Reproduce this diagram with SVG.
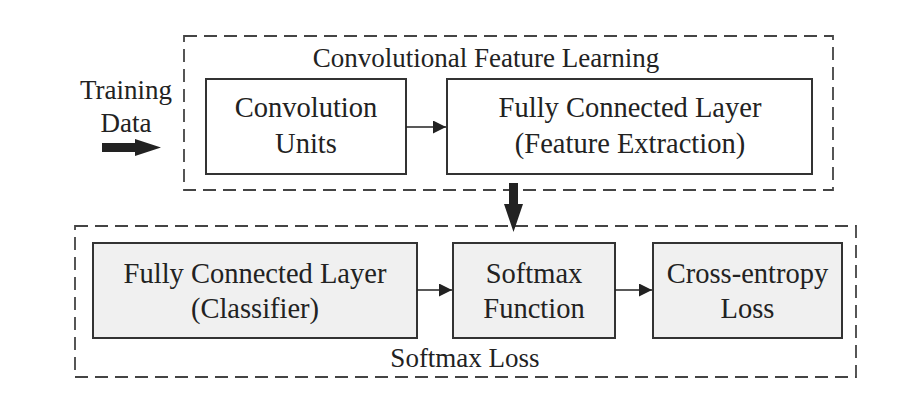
<svg xmlns="http://www.w3.org/2000/svg" width="898" height="408" viewBox="0 0 898 408">
  <defs>
    <style>
      text { font-family: 'Liberation Serif', serif; fill: #222; text-anchor: middle; }
      .lbl { font-size: 27px; }
      .node { font-size: 28.5px; }
      .box { fill: #ffffff; stroke: #333; stroke-width: 2; }
      .gbox { fill: #f0f0f0; stroke: #333; stroke-width: 2; }
      .dash { fill: none; stroke: #444; stroke-width: 1.8; stroke-dasharray: 13 7; }
      .conn { stroke: #222; stroke-width: 1.6; fill: none; }
      .fat { fill: #222; stroke: none; }
    </style>
    <marker id="ah" viewBox="0 0 10 10" refX="10" refY="5" markerWidth="14" markerHeight="13" markerUnits="userSpaceOnUse" orient="auto">
      <path d="M0,0 L10,5 L0,10 z" fill="#222"/>
    </marker>
  </defs>
  <rect width="898" height="408" fill="#ffffff"/>

  <g font-family="Liberation Serif, serif">
  <g id="group-feature-learning">
    <rect class="dash" x="184" y="36" width="649" height="154"/>
    <text class="lbl" x="486" y="67">Convolutional Feature Learning</text>
  </g>
  <g id="group-softmax-loss">
    <rect class="dash" x="75" y="226" width="781" height="151"/>
    <text class="lbl" x="465" y="367">Softmax Loss</text>
  </g>

  <g id="training-data">
    <text class="lbl" x="126" y="99">Training</text>
    <text class="lbl" x="126" y="132">Data</text>
  </g>

  <g id="conv-units">
    <rect class="box" x="206" y="79" width="200" height="95"/>
    <text class="node" x="306" y="117">Convolution</text>
    <text class="node" x="306" y="153">Units</text>
  </g>
  <g id="fc-feature">
    <rect class="box" x="447" y="79" width="365" height="95"/>
    <text class="node" x="630" y="117">Fully Connected Layer</text>
    <text class="node" x="630" y="153">(Feature Extraction)</text>
  </g>
  <g id="fc-classifier">
    <rect class="gbox" x="93" y="243" width="324" height="95"/>
    <text class="node" x="255" y="283">Fully Connected Layer</text>
    <text class="node" x="255" y="318">(Classifier)</text>
  </g>
  <g id="softmax-function">
    <rect class="gbox" x="453" y="243" width="162" height="95"/>
    <text class="node" x="534" y="283">Softmax</text>
    <text class="node" x="534" y="318">Function</text>
  </g>
  <g id="cross-entropy">
    <rect class="gbox" x="653" y="243" width="189" height="95"/>
    <text class="node" x="747.5" y="283">Cross-entropy</text>
    <text class="node" x="747.5" y="318">Loss</text>
  </g>
  </g>

  <g id="connectors">
    <path class="fat" d="M102,143 L135,143 L135,139 L161,147.5 L135,156 L135,152 L102,152 z"/>
    <path class="fat" d="M509,183 L518,183 L518,204 L523,204 L513.5,232 L504,204 L509,204 z"/>
    <line class="conn" x1="406" y1="127" x2="446" y2="127" marker-end="url(#ah)"/>
    <line class="conn" x1="417" y1="290" x2="452" y2="290" marker-end="url(#ah)"/>
    <line class="conn" x1="615" y1="290" x2="652" y2="290" marker-end="url(#ah)"/>
  </g>
</svg>
